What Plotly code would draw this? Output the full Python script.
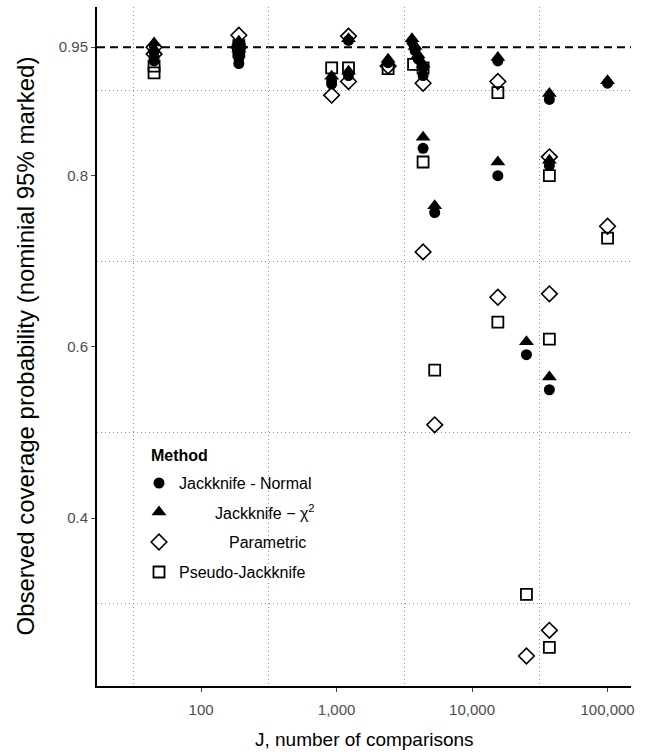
import plotly.graph_objects as go

# Coverage results by method: number of comparisons J and observed coverage
normal_J = [45, 45, 45, 190, 190, 190, 190, 920, 920, 1225, 1225, 2400, 3600, 3800, 4000,
            4350, 4350, 4350, 5300, 15500, 15500, 25200, 37200, 37200, 37200, 100000]
normal_cov = [0.945, 0.938, 0.934, 0.953, 0.944, 0.937, 0.931, 0.911, 0.907, 0.958, 0.917,
              0.932, 0.956, 0.946, 0.936, 0.926, 0.917, 0.832, 0.757, 0.934, 0.800, 0.591,
              0.889, 0.812, 0.550, 0.908]

chisq_J = [45, 45, 190, 190, 920, 1225, 1225, 2400, 3600, 3800, 4000, 4350, 4350, 5300,
           15500, 15500, 25200, 37200, 37200, 37200, 100000]
chisq_cov = [0.955, 0.947, 0.957, 0.948, 0.916, 0.960, 0.922, 0.936, 0.960, 0.951, 0.941,
             0.930, 0.845, 0.765, 0.938, 0.816, 0.606, 0.896, 0.818, 0.565, 0.911]

param_J = [45, 45, 190, 190, 920, 1225, 1225, 2400, 4350, 4350, 5300, 15500, 15500, 25200,
           37200, 37200, 37200, 100000]
param_cov = [0.950, 0.942, 0.964, 0.950, 0.894, 0.963, 0.910, 0.928, 0.908, 0.711, 0.509,
             0.910, 0.658, 0.239, 0.822, 0.662, 0.269, 0.741]

pseudo_J = [45, 45, 190, 190, 920, 1225, 2400, 3700, 4350, 4350, 5300, 15500, 15500, 25200,
            37200, 37200, 37200, 100000]
pseudo_cov = [0.928, 0.920, 0.952, 0.945, 0.926, 0.926, 0.925, 0.930, 0.926, 0.816, 0.573,
              0.897, 0.629, 0.311, 0.800, 0.609, 0.249, 0.727]

method_labels = ["Jackknife - Normal", "Jackknife \u2212 \u03c7<sup>2</sup>", "Parametric",
                 "Pseudo-Jackknife"]

x_tickvals = [100, 1000, 10000, 100000]
x_ticktext = ["100", "1,000", "10,000", "100,000"]
x_gridvals = [10 ** 1.5, 10 ** 2.5, 10 ** 3.5, 10 ** 4.5]
y_tickvals = [0.4, 0.6, 0.8, 0.95]
y_ticktext = ["0.4", "0.6", "0.8", "0.95"]
y_gridvals = [0.3, 0.5, 0.7, 0.9]
nominal = 0.95

FONT = "Liberation Sans, Arial, sans-serif"
GRID = dict(showgrid=True, griddash="1px,3px", gridcolor="#8c8c8c", gridwidth=1.2, ticks="")

styles = [
    dict(symbol="circle", size=11, color="black", line=dict(width=0)),
    dict(symbol="triangle-up", size=13, color="black", line=dict(width=0)),
    dict(symbol="diamond-open", size=12, color="black", line=dict(width=1.6, color="black")),
    dict(symbol="square-open", size=11, color="black", line=dict(width=1.8, color="black")),
]

fig = go.Figure()
series = [(normal_J, normal_cov), (chisq_J, chisq_cov), (param_J, param_cov),
          (pseudo_J, pseudo_cov)]
for (xs, ys), st, name in zip(series, styles, method_labels):
    fig.add_trace(go.Scatter(x=xs, y=ys, mode="markers", marker=st, name=name,
                             showlegend=False, hoverinfo="skip"))

# Legend keys, laid out on a hidden overlay axis measured in pixels
key_x = 159
key_y = [483, 512, 542, 572]
label_x = [177, 213, 227, 177]
for st, ky in zip(styles, key_y):
    fig.add_trace(go.Scatter(x=[key_x], y=[ky], mode="markers", marker=st,
                             xaxis="x2", yaxis="y2", showlegend=False, hoverinfo="skip"))

annotations = [
    dict(text="<b>Method</b>", x=149, y=455, xref="x2", yref="y2", xanchor="left",
         yanchor="middle", showarrow=False, font=dict(size=16, color="black", family=FONT)),
]
for lab, lx, ky in zip(method_labels, label_x, key_y):
    annotations.append(dict(text=lab, x=lx, y=ky, xref="x2", yref="y2", xanchor="left",
                            yanchor="middle", showarrow=False,
                            font=dict(size=16, color="black", family=FONT)))

annotations.append(dict(text="J, number of comparisons", x=0.5, y=0, xref="paper",
                        yref="paper", yshift=-53, xanchor="center", yanchor="middle",
                        showarrow=False, font=dict(size=19, color="black", family=FONT)))
annotations.append(dict(text="Observed coverage probability (nominial 95% marked)", x=0,
                        y=0.5, xref="paper", yref="paper", xshift=-72, xanchor="center",
                        yanchor="middle", textangle=-90, showarrow=False,
                        font=dict(size=24, color="black", family=FONT)))

fig.update_layout(
    width=652, height=752,
    margin=dict(l=97, r=21, t=7, b=66),
    paper_bgcolor="white", plot_bgcolor="white",
    font=dict(family=FONT),
    showlegend=False,
    annotations=annotations,
    xaxis=dict(
        type="log", range=[1.232, 5.173],
        tickmode="array", tickvals=x_tickvals, ticktext=x_ticktext,
        showgrid=False, zeroline=False,
        showline=True, linecolor="black", linewidth=2,
        ticks="outside", ticklen=4, tickcolor="#444", tickwidth=1,
        ticklabelstandoff=5,
        tickfont=dict(size=15, color="#4d4d4d", family=FONT),
        minor=dict(tickmode="array", tickvals=x_gridvals, **GRID),
    ),
    yaxis=dict(
        range=[0.204, 0.997],
        tickmode="array", tickvals=y_tickvals, ticktext=y_ticktext,
        showgrid=False, zeroline=False,
        showline=True, linecolor="black", linewidth=2,
        ticks="outside", ticklen=4, tickcolor="#444", tickwidth=1,
        tickfont=dict(size=15, color="#4d4d4d", family=FONT),
        minor=dict(tickmode="array", tickvals=y_gridvals, **GRID),
    ),
    xaxis2=dict(overlaying="x", range=[97, 631], visible=False, anchor="y2"),
    yaxis2=dict(overlaying="y", range=[686, 7], visible=False, anchor="x2"),
    shapes=[dict(type="line", xref="paper", x0=0, x1=1, yref="y", y0=nominal, y1=nominal,
                 line=dict(color="black", width=2, dash="8px,5px"), layer="below")],
)

fig.write_html("out.html")
